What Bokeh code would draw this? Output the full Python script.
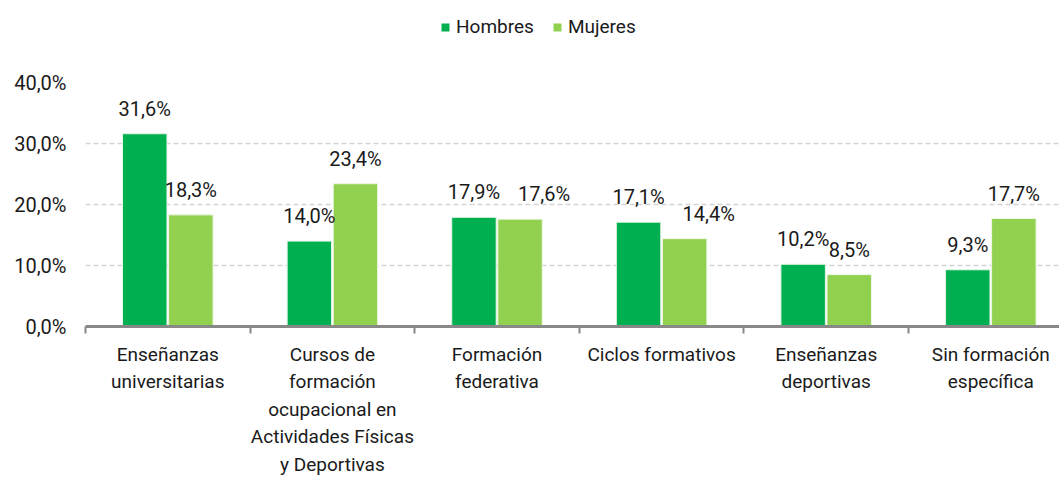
from bokeh.plotting import figure
from bokeh.layouts import column
from bokeh.models import ColumnDataSource, FixedTicker, Range1d, Legend, LegendItem
from bokeh.embed import file_html
from bokeh.resources import INLINE

categories = ["Enseñanzas\nuniversitarias",
              "Cursos de\nformación\nocupacional en\nActividades Físicas\ny Deportivas",
              "Formación\nfederativa",
              "Ciclos formativos",
              "Enseñanzas\ndeportivas",
              "Sin formación\nespecífica"]
hombres = [31.6, 14.0, 17.9, 17.1, 10.2, 9.3]
mujeres = [18.3, 23.4, 17.6, 14.4, 8.5, 17.7]
y_ticks = [0, 10, 20, 30, 40]
y_tick_labels = ["0,0%", "10,0%", "20,0%", "30,0%", "40,0%"]
series_names = ["Hombres", "Mujeres"]

# label nudges (pixels) to avoid overlaps, as in the original
mujeres_label_shift = [0, 0, 24, 24, 0, 0]

FONT = "Roboto"
TXT = "#1a1a1a"
C_H = "#00b050"
C_M = "#92d050"

def fmt(v):
    return f"{v:.1f}".replace(".", ",") + "%"

centers = [i + 0.5 for i in range(len(categories))]
off = 0.14
bw = 0.27

src_h = ColumnDataSource(dict(x=[c - off for c in centers], top=hombres,
                              lab=[fmt(v) for v in hombres],
                              dx=[0] * len(hombres)))
src_m = ColumnDataSource(dict(x=[c + off for c in centers], top=mujeres,
                              lab=[fmt(v) for v in mujeres],
                              dx=mujeres_label_shift))

# ---- legend strip on top ----
lg = figure(width=1059, height=50, output_backend="svg", toolbar_location=None,
            x_range=Range1d(0, 1), y_range=Range1d(0, 1),
            min_border_left=0, min_border_right=0, min_border_top=0,
            min_border_bottom=0)
lg.outline_line_color = None
lg.axis.visible = False
lg.grid.visible = False
dh = lg.vbar(x=[5], top=[1], width=0.1, fill_color=C_H, line_color=None)
dm = lg.vbar(x=[5], top=[1], width=0.1, fill_color=C_M, line_color=None)
legend = Legend(items=[LegendItem(label=series_names[0], renderers=[dh]),
                       LegendItem(label=series_names[1], renderers=[dm])],
                location=(355, 12), orientation="horizontal",
                glyph_width=10, glyph_height=10, label_text_font=FONT,
                label_text_font_size="19px", label_text_color=TXT,
                label_standoff=6, spacing=18, padding=0, margin=0,
                border_line_color=None, background_fill_alpha=0,
                label_height=20)
lg.add_layout(legend, "center")

# ---- main chart ----
p = figure(width=1059, height=429, output_backend="svg", toolbar_location=None,
           x_range=Range1d(0, 974 / 164.6), y_range=Range1d(0, 40),
           min_border_left=85, min_border_right=0, min_border_top=32,
           min_border_bottom=153)
p.outline_line_color = None

rh = p.vbar(x="x", top="top", width=bw, source=src_h, fill_color=C_H,
            line_color="#e6f5e6", line_width=1)
rm = p.vbar(x="x", top="top", width=bw, source=src_m, fill_color=C_M,
            line_color="#eef7e4", line_width=1)

for src in (src_h, src_m):
    p.text(x="x", y="top", text="lab", source=src, x_offset="dx",
           text_align="center", text_baseline="bottom", y_offset=-13,
           text_font_size="20px", text_color=TXT, text_font={"value": FONT})

xa = p.xaxis[0]
xa.ticker = FixedTicker(ticks=centers, minor_ticks=list(range(0, 7)))
xa.major_label_overrides = {c: lab for c, lab in zip(centers, categories)}
xa.major_tick_out = 0
xa.major_tick_in = 0
xa.minor_tick_out = 7
xa.minor_tick_in = 0
xa.minor_tick_line_color = "#888888"
xa.minor_tick_line_width = 2
xa.axis_line_color = "#888888"
xa.axis_line_width = 3
xa.major_label_text_font = FONT
xa.major_label_text_font_size = "19px"
xa.major_label_text_color = TXT
xa.major_label_standoff = 9

ya = p.yaxis[0]
ya.ticker = FixedTicker(ticks=y_ticks)
ya.major_label_overrides = {t: l for t, l in zip(y_ticks, y_tick_labels)}
ya.axis_line_color = None
ya.major_tick_line_color = None
ya.major_tick_out = 0
ya.major_tick_in = 0
ya.minor_tick_line_color = None
ya.major_label_text_font = FONT
ya.major_label_text_font_size = "20px"
ya.major_label_text_color = TXT
ya.major_label_standoff = 19

p.xgrid.grid_line_color = None
p.ygrid.grid_line_color = "#d4d4d4"
p.ygrid.grid_line_width = 1.5
p.ygrid.grid_line_dash = "5 3"

layout = column(lg, p, spacing=0)
open("out.html", "w").write(file_html(layout, INLINE))
